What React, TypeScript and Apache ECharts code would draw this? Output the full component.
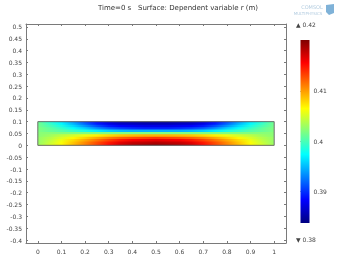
import React, { useEffect, useRef } from "react";
import * as echarts from "echarts";

const titleText = "Time=0 s   Surface: Dependent variable r (m)";

// sample positions of the surface (x along the strip, y from top row to bottom row)
const xs = [0, 0.05, 0.1, 0.15, 0.2, 0.25, 0.3, 0.35, 0.4, 0.45, 0.5, 0.55, 0.6, 0.65, 0.7, 0.75, 0.8, 0.85, 0.9, 0.95, 1];
const ys = [0.1, 0.09, 0.08, 0.07, 0.06, 0.05, 0.04, 0.03, 0.02, 0.01, 0];

// r (m), one row per y in ys, one value per x in xs
const row010 = [0.4012, 0.3983, 0.3961, 0.3932, 0.3903, 0.3878, 0.386, 0.3849, 0.3845, 0.3843, 0.3842, 0.3843, 0.3845, 0.3849, 0.386, 0.3878, 0.3903, 0.3932, 0.3961, 0.3983, 0.4012];
const row009 = [0.4016, 0.3994, 0.3972, 0.3947, 0.3918, 0.3892, 0.3874, 0.3863, 0.386, 0.3856, 0.3856, 0.3856, 0.386, 0.3863, 0.3874, 0.3892, 0.3918, 0.3947, 0.3972, 0.3994, 0.4016];
const row008 = [0.4016, 0.4001, 0.3983, 0.3961, 0.3936, 0.3911, 0.3892, 0.3882, 0.3878, 0.3874, 0.3874, 0.3874, 0.3878, 0.3882, 0.3892, 0.3911, 0.3936, 0.3961, 0.3983, 0.4001, 0.4016];
const row007 = [0.402, 0.4009, 0.3994, 0.3976, 0.3958, 0.3936, 0.3918, 0.3907, 0.39, 0.3896, 0.3896, 0.3896, 0.39, 0.3907, 0.3918, 0.3936, 0.3958, 0.3976, 0.3994, 0.4009, 0.402];
const row006 = [0.402, 0.4012, 0.4005, 0.3994, 0.3983, 0.3969, 0.3958, 0.3951, 0.3947, 0.3947, 0.3947, 0.3947, 0.3947, 0.3951, 0.3958, 0.3969, 0.3983, 0.3994, 0.4005, 0.4012, 0.402];
const row005 = [0.4023, 0.4023, 0.402, 0.402, 0.402, 0.402, 0.402, 0.402, 0.402, 0.402, 0.402, 0.402, 0.402, 0.402, 0.402, 0.402, 0.402, 0.402, 0.402, 0.4023, 0.4023];
const row004 = [0.4023, 0.403, 0.4041, 0.4049, 0.4059, 0.407, 0.4078, 0.4085, 0.4089, 0.4092, 0.4092, 0.4092, 0.4089, 0.4085, 0.4078, 0.407, 0.4059, 0.4049, 0.4041, 0.403, 0.4023];
const row003 = [0.4027, 0.4038, 0.4052, 0.4067, 0.4081, 0.4096, 0.411, 0.4121, 0.4128, 0.4132, 0.4136, 0.4132, 0.4128, 0.4121, 0.411, 0.4096, 0.4081, 0.4067, 0.4052, 0.4038, 0.4027];
const row002 = [0.4027, 0.4041, 0.4059, 0.4078, 0.4096, 0.4114, 0.4132, 0.4147, 0.4157, 0.4161, 0.4165, 0.4161, 0.4157, 0.4147, 0.4132, 0.4114, 0.4096, 0.4078, 0.4059, 0.4041, 0.4027];
const row001 = [0.4027, 0.4045, 0.4063, 0.4085, 0.4107, 0.4128, 0.4147, 0.4165, 0.4176, 0.4179, 0.4183, 0.4179, 0.4176, 0.4165, 0.4147, 0.4128, 0.4107, 0.4085, 0.4063, 0.4045, 0.4027];
const row000 = [0.403, 0.4049, 0.4067, 0.4089, 0.411, 0.4132, 0.4154, 0.4176, 0.4187, 0.4194, 0.4197, 0.4194, 0.4187, 0.4176, 0.4154, 0.4132, 0.411, 0.4089, 0.4067, 0.4049, 0.403];
const field = [row010, row009, row008, row007, row006, row005, row004, row003, row002, row001, row000];

// geometry (the strip)
const domainX = [0, 1];
const domainY = [0, 0.1];

// axes
const xTicks = [0, 0.1, 0.2, 0.3, 0.4, 0.5, 0.6, 0.7, 0.8, 0.9, 1];
const yTicks = [-0.4, -0.35, -0.3, -0.25, -0.2, -0.15, -0.1, -0.05, 0, 0.05, 0.1, 0.15, 0.2, 0.25, 0.3, 0.35, 0.4, 0.45, 0.5];
const xRange = [-0.05, 1.05];
const yRange = [-0.4125, 0.5125];

// colour range
const rangeMin = 0.3838;
const rangeMax = 0.4201;
const barTicks = [0.39, 0.4, 0.41];

const jetStops: [number, number[]][] = [
  [0, [0, 0, 128]],
  [0.125, [0, 0, 255]],
  [0.375, [0, 255, 255]],
  [0.625, [255, 255, 0]],
  [0.875, [255, 0, 0]],
  [1, [128, 0, 0]],
];

function jet(t: number): string {
  const v = Math.max(0, Math.min(1, t));
  for (let i = 1; i < jetStops.length; i++) {
    const [o1, c1] = jetStops[i];
    const [o0, c0] = jetStops[i - 1];
    if (v <= o1) {
      const k = (v - o0) / (o1 - o0);
      const c = c0.map((a, j) => Math.round(a + (c1[j] - a) * k));
      return `rgb(${c[0]},${c[1]},${c[2]})`;
    }
  }
  return "rgb(128,0,0)";
}

const FONT = "DejaVu Sans";
const AX = "#7a7a7a";
const TXT = "#444";

export default function App() {
  const ref = useRef<HTMLDivElement>(null);
  useEffect(() => {
    if (!ref.current) return;
    const chart = echarts.init(ref.current, undefined, { renderer: "svg" });
    const half = (ys[0] - ys[1]) / 2;

    const frameAxis = (extra: any) => ({
      type: "value",
      gridIndex: 0,
      splitLine: { show: false },
      axisLine: { show: true, onZero: false, lineStyle: { color: AX, width: 1 } },
      ...extra,
    });

    chart.setOption({
      animation: false,
      grid: [
        { left: 26, top: 24, width: 260, height: 219 },
        { left: 300.5, top: 40, width: 9, height: 183 },
      ],
      xAxis: [
        frameAxis({
          position: "bottom",
          min: xRange[0],
          max: xRange[1],
          axisTick: { show: true, inside: true, length: 2, customValues: xTicks, lineStyle: { color: AX } },
          axisLabel: { show: true, customValues: xTicks, fontSize: 6, fontFamily: FONT, color: TXT, margin: 5, formatter: (v: number) => String(v) },
        }),
        frameAxis({
          position: "top",
          min: xRange[0],
          max: xRange[1],
          axisTick: { show: true, inside: true, length: 2, customValues: xTicks, lineStyle: { color: AX } },
          axisLabel: { show: false },
        }),
        { type: "value", gridIndex: 1, min: 0, max: 1, show: false },
      ],
      yAxis: [
        frameAxis({
          position: "left",
          min: yRange[0],
          max: yRange[1],
          axisTick: { show: true, inside: true, length: 2, customValues: yTicks, lineStyle: { color: AX } },
          axisLabel: { show: true, customValues: yTicks, fontSize: 6, fontFamily: FONT, color: TXT, margin: 4, formatter: (v: number) => String(v) },
        }),
        frameAxis({
          position: "right",
          min: yRange[0],
          max: yRange[1],
          axisTick: { show: true, inside: true, length: 2, customValues: yTicks, lineStyle: { color: AX } },
          axisLabel: { show: false },
        }),
        {
          type: "value",
          gridIndex: 1,
          position: "right",
          min: rangeMin,
          max: rangeMax,
          splitLine: { show: false },
          axisLine: { show: false },
          axisTick: { show: true, inside: false, length: 2, customValues: barTicks, lineStyle: { color: "#666" } },
          axisLabel: { show: true, customValues: barTicks, fontSize: 6, fontFamily: FONT, color: TXT, margin: 4, formatter: (v: number) => String(v) },
        },
      ],
      series: [
        {
          type: "custom",
          xAxisIndex: 0,
          yAxisIndex: 0,
          data: ys.map((y) => [domainX[0], y]),
          renderItem: (params: any, api: any) => {
            const i = params.dataIndex;
            const y = ys[i];
            const top = Math.min(y + half, domainY[1]);
            const bot = Math.max(y - half, domainY[0]);
            const p0 = api.coord([domainX[0], top]);
            const p1 = api.coord([domainX[1], bot]);
            const stops = xs.map((x, j) => ({
              offset: (x - domainX[0]) / (domainX[1] - domainX[0]),
              color: jet((field[i][j] - rangeMin) / (rangeMax - rangeMin)),
            }));
            return {
              type: "rect",
              shape: { x: p0[0], y: p0[1] - 0.4, width: p1[0] - p0[0], height: p1[1] - p0[1] + 0.8 },
              style: { fill: new echarts.graphic.LinearGradient(0, 0, 1, 0, stops), stroke: null },
            };
          },
          silent: true,
          z: 2,
        },
        {
          type: "line",
          xAxisIndex: 0,
          yAxisIndex: 0,
          data: [
            [domainX[0], domainY[0]],
            [domainX[1], domainY[0]],
            [domainX[1], domainY[1]],
            [domainX[0], domainY[1]],
            [domainX[0], domainY[0]],
          ],
          symbol: "none",
          lineStyle: { color: "#6e6e6e", width: 1 },
          silent: true,
          z: 3,
        },
        {
          type: "custom",
          xAxisIndex: 2,
          yAxisIndex: 2,
          data: [[0.5, rangeMin]],
          renderItem: (params: any) => {
            const cs = params.coordSys;
            return {
              type: "rect",
              shape: { x: cs.x, y: cs.y, width: cs.width, height: cs.height },
              style: {
                fill: new echarts.graphic.LinearGradient(
                  0, 1, 0, 0,
                  jetStops.map(([o, c]) => ({ offset: o, color: `rgb(${c[0]},${c[1]},${c[2]})` }))
                ),
              },
            };
          },
          silent: true,
        },
      ],
      graphic: [
        {
          type: "text",
          x: 178,
          y: 8,
          style: { text: titleText, fontSize: 7, fontFamily: FONT, fill: "#333", textAlign: "center", textVerticalAlign: "middle" },
        },
        {
          type: "text",
          x: 296,
          y: 24,
          style: { text: "▲ " + rangeMax.toFixed(2), fontSize: 6, fontFamily: FONT, fill: TXT, textAlign: "left", textVerticalAlign: "middle" },
        },
        {
          type: "text",
          x: 296,
          y: 239,
          style: { text: "▼ " + rangeMin.toFixed(2), fontSize: 6, fontFamily: FONT, fill: TXT, textAlign: "left", textVerticalAlign: "middle" },
        },
        {
          type: "text",
          x: 312,
          y: 7,
          style: { text: "COMSOL", fontSize: 5, fontFamily: FONT, fill: "#b4cde0", textAlign: "center", textVerticalAlign: "middle" },
        },
        {
          type: "text",
          x: 308,
          y: 13,
          style: { text: "MULTIPHYSICS", fontSize: 4, fontFamily: FONT, fill: "#b4cde0", textAlign: "center", textVerticalAlign: "middle" },
        },
        {
          type: "polygon",
          shape: { points: [[326, 5], [334, 4], [334, 13], [329, 15], [326, 12]] },
          style: { fill: "#7fb2d8" },
        },
      ],
    });
    return () => chart.dispose();
  }, []);
  return <div ref={ref} style={{ position: "fixed", left: 0, top: 0, width: 343, height: 258 }} />;
}
